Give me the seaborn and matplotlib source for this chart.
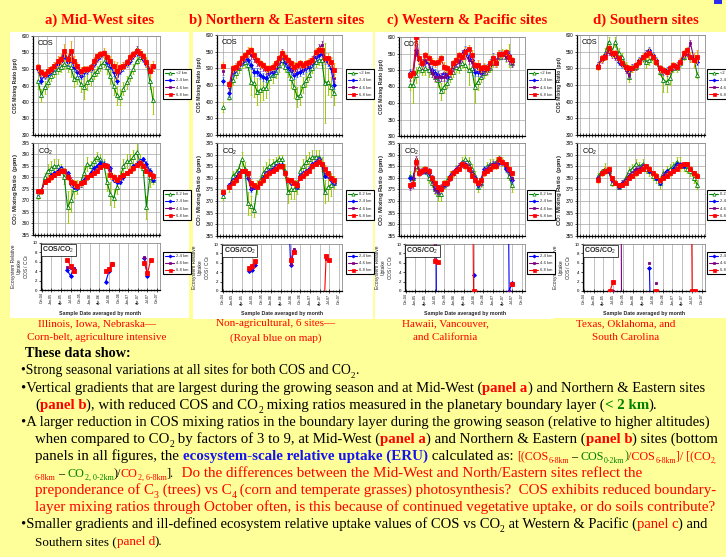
import numpy as np
import matplotlib
matplotlib.use("Agg")
import matplotlib.pyplot as plt
from matplotlib.lines import Line2D
from matplotlib.patches import Rectangle
from matplotlib.ticker import MultipleLocator, NullFormatter
import seaborn as sns

nan = np.nan

# ---------------------------------------------------------------- text data
panel_titles = ["a) Mid-West sites", "b) Northern & Eastern sites",
                "c) Western & Pacific sites", "d) Southern sites"]
panel_captions = [("Illinois, Iowa, Nebraska\u2014", "Corn-belt, agriculture intensive"),
                  ("Non-agricultural, 6 sites\u2014", "(Royal blue on map)"),
                  ("Hawaii, Vancouver,", "and California"),
                  ("Texas, Oklahoma, and", "South Carolina")]
cos_layers = ["<2 km", "2-4 km", "4-6 km", "6-8 km"]
co2_layers = ["0-2 km", "2-4 km", "4-6 km", "6-8 km"]
ratio_layers = ["2-4 km", "4-6 km", "6-8 km"]
month_ticks = [0, 3, 6, 9, 12, 15, 18, 21, 24, 27, 30, 33, 36]
month_labels = ["Oct-04", "Jan-05", "Apr-05", "Jul-05", "Oct-05", "Jan-06", "Apr-06",
                "Jul-06", "Oct-06", "Jan-07", "Apr-07", "Jul-07", "Oct-07"]

# ---------------------------------------------------------------- a) Mid-West
a_cos_0_2 = [465,420,445,460,480,490,500,505,515,510,505,470,475,455,445,460,470,485,
             495,510,520,505,480,450,420,415,440,460,480,500,525,535,540,520,465,405]
a_cos_2_4 = [500,465,480,485,495,505,515,525,540,520,530,505,490,480,490,495,500,515,
             530,540,545,520,510,490,465,495,505,515,525,540,550,545,530,515,495,505]
a_cos_4_6 = [505,485,483,495,500,510,520,530,550,530,545,520,505,490,500,500,505,520,
             535,545,548,530,520,505,485,500,510,520,535,545,560,550,535,520,500,505]
a_cos_6_8 = [505,490,485,495,500,510,525,530,555,530,555,525,510,495,500,500,505,525,
             540,545,550,535,525,510,495,505,510,520,535,545,555,550,540,520,495,510]
a_cos_err_0_2 = [25,20,20,15,15,15,15,15,15,20,30,25,20,25,35,25,20,15,
                 15,15,15,20,25,30,30,25,20,20,15,15,10,10,10,15,25,40]
a_cos_err_6_8 = [10,10,10,10,10,10,15,15,20,15,30,15,10,10,10,10,10,10,
                 10,10,15,10,15,15,25,10,10,10,10,10,10,10,10,15,20,15]
a_co2_0_2 = [372,374,380,383,384,385,385,384,380,367,370,375,376,378,382,386,385,387,
             389,388,386,378,373,371,376,380,385,387,387,389,391,387,384,367,380,379]
a_co2_2_4 = [373.5,374,378,379,381,382,383,384,383,382,377,376,375.5,377,379,380,382,384,
             385,386.5,386,385,384,379,378,378,380,382,383,385,386,387,388,386,383,379]
a_co2_4_6 = [374,374,378,379,380,381,382,383,383,381,379,377,376,377,378,380,381,382,
             383,384.5,385.5,385.5,383,380,379,380,381,382,383,384,385.5,386.5,385.5,384,382,381]
a_co2_6_8 = [374,374,378,379,380,381,382,383,383,380,378,377.5,376.5,377.5,378,380,381,382,
             383,384.5,385.5,385,381,380,379,380,381,382,383,384,385.5,386.5,385,383,381.5,380.5]
a_co2_err_0_2 = [1.5,1,2,3,3,3,3,2,3,7,5,4,3,2,3,3,2,2,
                 2,2,2,4,5,4,3,3,3,3,3,3,4,3,3,5,4,2]
a_co2_err_6_8 = [1,1,1,1,1,1,1,1,1,1,1.5,1.5,1,1,1,1,1,1,
                 1,1,1,1,1.5,1.5,1,1,1,1,1,1,1,1,1,1,1,1]
a_ratio_months = [8, 9, 10, 20, 21, 22, 32, 33, 34]
a_ratio_2_4 = [4.2, 3.0, 4.5, 1.8, 4.0, 5.6, 6.8, 3.0, nan]
a_ratio_4_6 = [4.8, 4.6, 4.6, nan, nan, 5.8, 7.0, 3.3, nan]
a_ratio_6_8 = [6.3, 5.2, 4.0, 4.0, 4.5, 5.5, 5.8, 3.6, 6.4]

# ---------------------------------------------------------------- b) Northern & Eastern
b_cos_0_2 = [385,nan, 415,465,485,500,515, 520,510,460,455,430, 435,440,440,470,480,
             490,510,525,505,495, 470,445,415,420,450, 465,480,500,520,525, 525,455,460,445,425]
b_cos_2_4 = [462,nan, 425,490,500,510,520, 530,525,510,490,490, 480,475,470,485,490,
             500,520,540,520,505, 495,480,485,490,495, 500,505,515,535,540, 545,525,520,500,450]
b_cos_4_6 = [492,nan, 443,495,505,510,525, 535,545,540,530,520, 510,505,495,495,500,
             510,525,545,530,520, 505,495,505,510,505, 510,515,525,545,560, 570,535,525,520,470]
b_cos_6_8 = [508,nan, 453,500,505,515,530, 540,550,555,540,525, 515,510,500,500,505,
             515,530,545,535,525, 515,505,510,515,510, 515,520,525,550,555, 555,530,530,520,495]
b_cos_err_0_2 = [15,nan, 10,15,15,15,15, 15,15,40,40,40, 35,35,30,30,25,
                 20,20,15,15,20, 30,35,30,30,25, 20,15,15,15,15, 15,120,40,30,35]
b_cos_err_6_8 = [10,nan, 10,10,10,10,10, 10,15,10,10,10, 10,10,10,10,10,
                 10,10,10,10,10, 10,15,10,10,10, 10,10,10,10,10, 10,15,15,15,20]
b_co2_0_2 = [372,nan, 376,381,382,384,388, 384,369,368,366,376, 379,382,384,385,386,
             387,388,388,383,374, 375,375,376,383,385, 387,388,389,389,389, 386,374,376,377,378]
b_co2_2_4 = [373.5,nan, 377,379,380,382,383, 383,380,375,376,376, 378,380,382,383,384,
             385,385.5,385.5,382,379, 378,378,376,381,382, 383,384,386,387,388, 386,381,381,379,378]
b_co2_4_6 = [374,nan, 376.5,378.5,379.5,381.5,383, 383,381,376,376.5,376, 378,379.5,381.5,382.5,383.5,
             384.5,385,385,382,379, 378.5,378,376.5,380.5,381.5, 382.5,383.5,385.5,386.5,387.5,
             386,382.5,381.5,379.5,378.5]
b_co2_6_8 = [374,nan, 376,378,379,381,383, 383,382,378,377,376, 378,379,381,382,383,
             384,385,385,382,379, 379,378,377,380,381, 382,383,385,386,387, 386,384,382,380,379]
b_co2_err_0_2 = [1.5,nan, 2,2,2,2,3, 3,5,4,3,3, 2,3,3,3,2,
                 2,2,2,3,5, 4,4,3,2,3, 3,3,3,3,3, 3,5,6,5,3]
b_co2_err_6_8 = [1,nan, 1,1,1,1,1, 1,1,1.5,1,1, 1,1,1,1,1,
                 1,1,1,1,1.5, 1,1,1,1,1, 1,1,1,1,1, 1,1.5,1,1,1]
b_ratio_months = [8, 9, 10, 20, 21, 22, 31, 32, 33]
b_ratio_2_4 = [4.3, 4.5, 5.5, 25.0, 5.6, 8.5, nan, nan, nan]
b_ratio_4_6 = [4.5, 4.9, 6.0, nan, 5.8, 9.0, nan, 6.8, 6.5]
b_ratio_6_8 = [5.0, 5.3, 6.3, nan, 6.5, 8.4, -10.0, 7.5, 6.5]

# ---------------------------------------------------------------- c) Western & Pacific
c_cos_0_2 = [455,455,485,505,500, 505,500,495,480,470, 435,450,460,480,495,
             510,505,520,515,500, 505,450,465,480,490, 500,505,520,525,540, 550,540,545,520]
c_cos_2_4 = [490,495,560,530,520, 525,520,500,490,485, 480,490,480,495,515,
             525,530,550,560,540, 530,495,495,490,505, 505,520,540,525,550, 545,550,545,525]
c_cos_4_6 = [480,490,555,530,515, 530,520,490,480,480, 480,480,485,490,510,
             520,525,540,545,530, 525,510,505,495,500, 500,515,530,520,545, 545,540,530,520]
c_cos_6_8 = [485,490,600,535,520, 545,535,525,520,525, 535,510,505,495,520,
             530,545,540,555,565, 545,515,515,505,510, 505,520,535,520,550, 550,555,540,530]
c_cos_err_0_2 = [15,55,25,15,15, 20,20,15,15,20, 25,20,15,15,15,
                 15,15,15,15,45, 20,50,25,15,15, 15,10,10,10,10, 15,15,35,10]
c_cos_err_6_8 = [10,10,10,15,10, 10,10,10,10,10, 10,15,10,10,10,
                 10,10,10,15,10, 15,10,15,10,10, 10,10,15,10,10, 10,10,10,10]
c_co2_0_2 = [381,380,385,383,383, 383,380,378,375,373, 373,377,379,381,382,
             384,385,387,388,387, 384,381,376,378,383, 385,386,386,387,388, 387,385,381,377]
c_co2_2_4 = [380,380,387,382,383, 383,382,380,375,375, 375,377,378,381,382,
             384,385,386,386,384, 382,380,377,379,384, 384,385,386,386,387, 387,384,383,379]
c_co2_4_6 = [376,377,388,383,383, 384,383,380,375,374, 376,377,378,380,382,
             384,385,386,386,385, 382,379,378,378,383, 384,385,386,386,388, 387,385,383,380]
c_co2_6_8 = [377,377.5,387,382,383, 384,383,380,378,376, 375,378,378,380,382,
             383,384,386,385,384, 381,379,378,379,382, 383,384,385,385,388, 387,386,384,382]
c_co2_err_0_2 = [2,2,2,1.5,1.5, 1.5,2,2,2,3, 3,2,2,2,1.5,
                 1.5,1.5,2,2,2, 2,2,2,2,2, 2,2,2,2,2, 2,2,2,3]
c_co2_err_6_8 = [1,1,1.5,1,1, 1,1,1,1,1, 1,1,1,1,1,
                 1,1,1,1,1, 1,1,1,1,1, 1,1,1,1,1, 1,1,1,1]
c_ratio_months = [8, 9, 10, 20, 21, 31, 32, 33]
c_ratio_2_4 = [nan, 60.0, -60.0, nan, 3.5, 80.0, 0.0, 1.8]
c_ratio_4_6 = [nan, nan, 6.2, nan, 0.0, nan, 0.0, nan]
c_ratio_6_8 = [30.0, 6.4, 6.2, 80.0, 0.0, nan, nan, 1.5]

# ---------------------------------------------------------------- d) Southern
d_cos_0_2 = [510,530,545,580,550, 580,545,535,510,475, 500,505,520,530,520,
             525,530,520,490,465, 460,470,500,500,515, 535,545,535,530,480]
d_cos_2_4 = [510,530,540,555,545, 540,520,510,500,495, 505,510,525,535,545,
             555,540,525,500,495, 495,500,505,505,515, 540,550,530,530,520]
d_cos_4_6 = [510,525,535,550,540, 535,530,515,495,480, 505,505,520,530,545,
             545,535,520,495,490, 485,495,505,510,520, 540,545,575,530,525]
d_cos_6_8 = [505,530,535,560,545, 545,530,515,505,500, 500,510,520,535,540,
             545,535,520,500,495, 490,500,510,505,520, 545,555,535,525,535]
d_cos_err_0_2 = [10,10,15,15,10, 15,15,10,10,15, 10,10,10,10,20,
                 15,15,10,10,35, 30,20,10,10,10, 10,10,15,10,10]
d_cos_err_6_8 = [10,10,10,10,10, 10,10,10,10,10, 10,10,10,10,10,
                 15,10,10,10,10, 10,10,10,10,10, 10,10,15,20,20]
d_co2_0_2 = [381,383,384,383,378, 378,376,378,380,383, 384,386,385,386,384,
             383,381,380,378,382, 383,384,385,387,386, 385,384,383,380,377]
d_co2_2_4 = [380,382,383,383,379, 378,376,378,379,381, 382,384,384,385,385,
             383,382,380,378,381, 383,382,384,386,385, 385,386,384,382,381]
d_co2_4_6 = [380,382,383,383,379, 378,376,378,379,381, 382,384,384,385,385,
             384,382,381,379,381, 382,382,383,385,386, 386,386,384,382,381]
d_co2_6_8 = [379,382,383,384,380, 378,377,377,378,380, 381,382,383,384,385,
             384,382,381,379,380, 381,382,383,384,385, 386,386,384,382,381]
d_co2_err_0_2 = [1,1,2.5,1,1.5, 1,1,1,1,1.5, 2,2,2,2,2,
                 2,2,2,3,2, 2,2,2,2,3, 2,2,2,2,2]
d_co2_err_6_8 = [1,1,1.5,1,1, 1,1,1,1,1, 1,1,1,1,1,
                 1,1,1,1,1, 1,1,1,1,1, 1,1,1,1,1]
d_ratio_months = [8, 9, 11, 12, 20, 21, 22, 32, 33, 34]
d_ratio_2_4 = [nan, nan, nan, nan, 5.0, -30.0, nan, nan, nan, nan]
d_ratio_4_6 = [nan, 0.0, 90.0, -90.0, 6.0, nan, 1.6, nan, nan, nan]
d_ratio_6_8 = [0.0, 2.0, nan, nan, nan, nan, 0.0, 90.0, 0.0, 0.0]

# typical error bars of the 2-4 km and 4-6 km layers, per region
mid_cos_err = [10, 12, 12, 9]
mid_co2_err = [1.0, 1.0, 1.3, 0.9]

# ---------------------------------------------------------------- styling
W, H, DPI = 726, 557, 100
BG = "#FFFF99"
SERIF = ["Liberation Serif", "DejaVu Serif"]
SANS = ["Liberation Sans", "DejaVu Sans"]
RED, GREEN, BLUE, BLACK = "#FF0000", "#008000", "#1414F0", "#000000"

STYLE = {
    "0-2": dict(color="#008000", ecolor="#99CC00", marker="^", mfc="white", ms=2.9),
    "2-4": dict(color="#0000FF", ecolor="#3366FF", marker="D", mfc="#0000FF", ms=2.0),
    "4-6": dict(color="#800080", ecolor="#993399", marker="s", mfc="#800080", ms=2.0),
    "6-8": dict(color="#FF0000", ecolor="#FF9900", marker="s", mfc="#FF0000", ms=2.7),
}
ZORD = {"0-2": 2, "2-4": 3, "4-6": 4, "6-8": 5}

sns.set_theme(style="white")
plt.rcParams["font.family"] = SANS
plt.rcParams["mathtext.fontset"] = "custom"
plt.rcParams["mathtext.rm"] = "Liberation Sans"
plt.rcParams["mathtext.bf"] = "Liberation Sans:bold"
plt.rcParams["mathtext.it"] = "Liberation Sans:italic"

fig = plt.figure(figsize=(W / DPI, H / DPI), dpi=DPI)
fig.patch.set_facecolor(BG)


def fbox(l, t, r, b):
    return [l / W, 1 - b / H, (r - l) / W, (b - t) / H]


def frect(l, t, r, b, color, z=-1):
    fig.patches.append(Rectangle((l / W, 1 - b / H), (r - l) / W, (b - t) / H,
                                 transform=fig.transFigure, facecolor=color,
                                 edgecolor="none", zorder=z))


# layout of the four regional columns (pixel boxes: left, top, right, bottom)
layout = [
    dict(card=(10, 32, 189, 318), cos=(33, 36, 160, 135), co2=(33, 143, 160, 235),
         ratio=(41, 243, 160, 290), xlim=(-1.52, 37.13), leg_x=163, title_x=100, cap_x=97),
    dict(card=(193, 32, 373, 319), cos=(217, 35, 342, 135), co2=(217, 143, 342, 236),
         ratio=(222, 244, 342, 291), xlim=(-2.05, 38.6), leg_x=346, title_x=277, cap_x=276),
    dict(card=(375, 32, 553, 319), cos=(399, 37, 525, 136), co2=(399, 143, 525, 236),
         ratio=(405, 244, 525, 291), xlim=(-3.57, 37.3), leg_x=527, title_x=467, cap_x=445),
    dict(card=(553, 32, 726, 318), cos=(577, 35, 705, 135), co2=(577, 143, 705, 236),
         ratio=(583, 244, 705, 291), xlim=(-6.24, 31.26), leg_x=707, title_x=646, cap_x=626),
]

regions = [
    dict(cos=[a_cos_0_2, a_cos_2_4, a_cos_4_6, a_cos_6_8], cos_err=(a_cos_err_0_2, a_cos_err_6_8),
         co2=[a_co2_0_2, a_co2_2_4, a_co2_4_6, a_co2_6_8], co2_err=(a_co2_err_0_2, a_co2_err_6_8),
         rm=a_ratio_months, ratio=[a_ratio_2_4, a_ratio_4_6, a_ratio_6_8]),
    dict(cos=[b_cos_0_2, b_cos_2_4, b_cos_4_6, b_cos_6_8], cos_err=(b_cos_err_0_2, b_cos_err_6_8),
         co2=[b_co2_0_2, b_co2_2_4, b_co2_4_6, b_co2_6_8], co2_err=(b_co2_err_0_2, b_co2_err_6_8),
         rm=b_ratio_months, ratio=[b_ratio_2_4, b_ratio_4_6, b_ratio_6_8]),
    dict(cos=[c_cos_0_2, c_cos_2_4, c_cos_4_6, c_cos_6_8], cos_err=(c_cos_err_0_2, c_cos_err_6_8),
         co2=[c_co2_0_2, c_co2_2_4, c_co2_4_6, c_co2_6_8], co2_err=(c_co2_err_0_2, c_co2_err_6_8),
         rm=c_ratio_months, ratio=[c_ratio_2_4, c_ratio_4_6, c_ratio_6_8]),
    dict(cos=[d_cos_0_2, d_cos_2_4, d_cos_4_6, d_cos_6_8], cos_err=(d_cos_err_0_2, d_cos_err_6_8),
         co2=[d_co2_0_2, d_co2_2_4, d_co2_4_6, d_co2_6_8], co2_err=(d_co2_err_0_2, d_co2_err_6_8),
         rm=d_ratio_months, ratio=[d_ratio_2_4, d_ratio_4_6, d_ratio_6_8]),
]


def split_runs(x, y):
    runs, cur = [], []
    for xi, yi in zip(x, y):
        if yi is None or np.isnan(yi):
            if cur:
                runs.append(cur)
            cur = []
            continue
        if cur and xi - cur[-1][0] > 1:
            runs.append(cur)
            cur = []
        cur.append((xi, yi))
    if cur:
        runs.append(cur)
    return runs


def draw_series(ax, x, y, err, key):
    st = STYLE[key]
    z = ZORD[key]
    if err is not None:
        ax.errorbar(x, y, yerr=err, fmt="none", ecolor=st["ecolor"], elinewidth=0.7,
                    capsize=0.9, capthick=0.5, zorder=z)
    for run in split_runs(x, y):
        xs, ys = zip(*run)
        sns.lineplot(x=list(xs), y=list(ys), ax=ax, color=st["color"], marker=st["marker"],
                     markersize=st["ms"], markerfacecolor=st["mfc"], markeredgecolor=st["color"],
                     markeredgewidth=0.6, linewidth=0.8, estimator=None, errorbar=None,
                     sort=False, legend=False, zorder=z + 0.5)


def frame(ax):
    for s in ("top", "right"):
        ax.spines[s].set_color("#8C8C8C")
        ax.spines[s].set_linewidth(0.6)
    for s in ("left", "bottom"):
        ax.spines[s].set_color("black")
        ax.spines[s].set_linewidth(0.9)
    ax.set_facecolor("white")
    ax.set_axisbelow(True)
    ax.set_xlabel("")
    ax.set_ylabel("")


def style_top(ax, xlim, ylim, ymaj, ymin, width_px):
    ax.set_xlim(*xlim)
    ax.set_ylim(*ylim)
    step = 9.1 / (width_px / (xlim[1] - xlim[0]))
    ax.xaxis.set_major_locator(MultipleLocator(step))
    ax.xaxis.set_minor_locator(MultipleLocator(step / 3))
    ax.xaxis.set_major_formatter(NullFormatter())
    ax.yaxis.set_major_locator(MultipleLocator(ymaj))
    ax.yaxis.set_minor_locator(MultipleLocator(ymin))
    ax.grid(True, which="major", color="#A6A6A6", linewidth=0.5)
    ax.tick_params(axis="x", which="both", direction="inout", length=2.2, width=0.5,
                   bottom=True, labelbottom=False, color="black")
    ax.tick_params(axis="y", which="major", direction="out", length=1.8, width=0.5,
                   left=True, labelsize=3.3, pad=0.8, colors="black")
    ax.tick_params(axis="y", which="minor", direction="out", length=1.0, width=0.4, left=True)
    frame(ax)


def style_ratio(ax):
    ax.set_xlim(-0.2, 36.9)
    ax.set_ylim(0, 10)
    ax.set_xticks(month_ticks, labels=month_labels)
    ax.xaxis.set_minor_locator(MultipleLocator(1))
    ax.yaxis.set_major_locator(MultipleLocator(2))
    ax.grid(True, axis="x", which="major", color="#A6A6A6", linewidth=0.5)
    ax.tick_params(axis="x", which="major", direction="inout", length=2.2, width=0.5,
                   bottom=True, labelsize=2.6, pad=0.8, rotation=90, colors="black")
    ax.tick_params(axis="x", which="minor", direction="inout", length=1.6, width=0.4, bottom=True)
    ax.tick_params(axis="y", which="major", direction="out", length=1.8, width=0.5,
                   left=True, labelsize=3.2, pad=0.8, colors="black")
    frame(ax)


def legend_at(keys, labels, x_px, y_px):
    handles = [Line2D([0], [0], color=STYLE[k]["color"], marker=STYLE[k]["marker"],
                      markersize=STYLE[k]["ms"] * 0.8, markerfacecolor=STYLE[k]["mfc"],
                      markeredgecolor=STYLE[k]["color"], markeredgewidth=0.5, linewidth=0.8)
               for k in keys]
    leg = fig.legend(handles, labels, loc="center left", bbox_to_anchor=(x_px / W, 1 - y_px / H),
                     fontsize=2.9, frameon=True, fancybox=False, edgecolor="black",
                     facecolor="white", framealpha=1, handlelength=2.2, handletextpad=0.5,
                     borderpad=0.55, labelspacing=0.75, borderaxespad=0)
    leg.get_frame().set_linewidth(0.8)


KEYS4 = ["0-2", "2-4", "4-6", "6-8"]
KEYS3 = ["2-4", "4-6", "6-8"]

for i, (lay, reg) in enumerate(zip(layout, regions)):
    frect(*lay["card"], "white", z=-2 if i == 3 else -1)

    # --- COS mixing ratio
    l, t, r, b = lay["cos"]
    ax = fig.add_axes(fbox(*lay["cos"]))
    n = len(reg["cos"][0])
    xs = np.arange(n)
    for k, vals in zip(KEYS4, reg["cos"]):
        if k == "0-2":
            err = reg["cos_err"][0]
        elif k == "6-8":
            err = reg["cos_err"][1]
        else:
            err = mid_cos_err[i]
        draw_series(ax, xs, np.asarray(vals, float), err, k)
    style_top(ax, lay["xlim"], (300, 600), 50, 10, r - l)
    ax.text(5 / (r - l), 1 - 7.5 / (b - t), "COS", transform=ax.transAxes, fontsize=5.2,
            ha="left", va="center", color="black")
    fig.text((l - 18) / W, 1 - ((t + b) / 2) / H, "COS Mixing Ratio (ppt)", rotation=90,
             fontsize=3.6, fontweight="bold", ha="center", va="center")
    legend_at(KEYS4, cos_layers, lay["leg_x"], 84)

    # --- CO2 mixing ratio
    l, t, r, b = lay["co2"]
    ax = fig.add_axes(fbox(*lay["co2"]))
    for k, vals in zip(KEYS4, reg["co2"]):
        if k == "0-2":
            err = reg["co2_err"][0]
        elif k == "6-8":
            err = reg["co2_err"][1]
        else:
            err = mid_co2_err[i]
        draw_series(ax, xs, np.asarray(vals, float), err, k)
    style_top(ax, lay["xlim"], (355, 395), 5, 1, r - l)
    ax.text(5 / (r - l), 1 - 8.5 / (b - t), "CO$_2$", transform=ax.transAxes, fontsize=5.2,
            ha="left", va="center", color="black")
    fig.text((l - 18) / W, 1 - ((t + b) / 2) / H, "CO$_2$ Mixing Ratio  (ppm)", rotation=90,
             fontsize=4.4, fontweight="bold", ha="center", va="center")
    legend_at(KEYS4, co2_layers, lay["leg_x"], 205)

    # --- ecosystem relative uptake COS/CO2
    l, t, r, b = lay["ratio"]
    ax = fig.add_axes(fbox(*lay["ratio"]))
    for k, vals in zip(KEYS3, reg["ratio"]):
        draw_series(ax, np.asarray(reg["rm"], float), np.asarray(vals, float), None, k)
    style_ratio(ax)
    ax.text(1.5 / (r - l), 1 - 2 / (b - t), "COS/CO$_2$", transform=ax.transAxes, fontsize=5.0,
            fontweight="bold", ha="left", va="top", zorder=10,
            bbox=dict(boxstyle="square,pad=0.15", facecolor="white", edgecolor="black", linewidth=0.5))
    fig.text((l - 20) / W, 1 - ((t + b) / 2) / H, "Ecosystem Relative\nUptake\nCOS / CO$_2$",
             rotation=90, fontsize=3.5, ha="center", va="center", linespacing=1.1)
    fig.text(((l + r) / 2) / W, 1 - 313 / H, "Sample Date averaged by month", fontsize=3.8,
             fontweight="bold", ha="center", va="center")
    legend_at(KEYS3, ratio_layers, lay["leg_x"], 263)

    # --- panel heading and caption
    fig.text(lay["title_x"] / W, 1 - 20 / H, panel_titles[i], fontsize=10.6, fontweight="bold",
             color=RED, family=SERIF, ha="center", va="center")
    fig.text(lay["cap_x"] / W, 1 - 324 / H, panel_captions[i][0], fontsize=8, color=RED,
             family=SERIF, ha="center", va="center")
    fig.text(lay["cap_x"] / W, 1 - 338 / H, panel_captions[i][1], fontsize=8, color=RED,
             family=SERIF, ha="center", va="center")

# small blue mark in the top-right corner
frect(714, 0, 722, 4, "#2B2BF0", z=1)

# ---------------------------------------------------------------- findings text
renderer = fig.canvas.get_renderer()


def _w(txt, size, bold):
    t = fig.text(0, 0, txt, fontsize=size, fontweight="bold" if bold else "normal", family=SERIF)
    w = t.get_window_extent(renderer).width
    t.remove()
    return w


def seg_width(s, size, bold):
    return _w("|" + s + "|", size, bold) - _w("||", size, bold)


KIND = {"n": (1.0, 0.0), "sub": (0.66, 0.26), "sm": (0.8, 0.0), "smsub": (0.53, 0.21)}


def rich_line(x0, yc, segs, size, right=None):
    if right is not None:
        total = sum(seg_width(s, size * KIND[k][0], b) for s, c, b, k in segs)
        size = size * (right - x0) / total
    base = yc + 0.32 * size * DPI / 72
    x = x0
    for s, c, b, k in segs:
        f, drop = KIND[k]
        fs = size * f
        y = base + drop * size * DPI / 72
        fig.text(x / W, 1 - y / H, s, fontsize=fs, fontweight="bold" if b else "normal",
                 color=c, family=SERIF, ha="left", va="baseline")
        x += seg_width(s, fs, b)


K, R, G, B = BLACK, RED, GREEN, BLUE
body = [
    (25, 352, [("These data show:", K, True, "n")], 131),
    (21, 370, [("\u2022Strong seasonal variations at all sites for both COS and CO", K, False, "n"),
               ("2", K, False, "sub"), (".", K, False, "n")], 360),
    (21, 387, [("\u2022Vertical gradients that are largest during the growing season and at Mid-West (", K, False, "n"),
               ("panel a", R, True, "n"), (") and Northern & Eastern sites", K, False, "n")], 718),
    (35, 404, [("(", K, False, "n"), ("panel b", R, True, "n"),
               ("), with reduced COS and CO", K, False, "n"), ("2", K, False, "sub"),
               (" mixing ratios measured in the planetary boundary layer (", K, False, "n"),
               ("< 2 km", G, True, "n"), (").", K, False, "n")], 660),
    (21, 421, [("\u2022A larger reduction in COS mixing ratios in the boundary layer during the growing "
                "season (relative to higher altitudes)", K, False, "n")], 719),
    (35, 438, [("when compared to CO", K, False, "n"), ("2", K, False, "sub"),
               (" by factors of 3 to 9, at Mid-West (", K, False, "n"), ("panel a", R, True, "n"),
               (") and Northern & Eastern (", K, False, "n"), ("panel b", R, True, "n"),
               (") sites (bottom", K, False, "n")], 719),
    (35, 455, [("panels in all figures, the ", K, False, "n"),
               ("ecosystem-scale relative uptake (ERU)", B, True, "n"),
               (" calculated as: ", K, False, "n"), ("[(COS", R, False, "sm"), ("6-8km", R, False, "smsub"),
               (" \u2013 ", K, False, "sm"), ("COS", G, False, "sm"), ("0-2km", G, False, "smsub"),
               (")", G, False, "sm"), ("/COS", R, False, "sm"), ("6-8km", R, False, "smsub"),
               ("]/ [(CO", R, False, "sm"), ("2,", R, False, "smsub")], 720),
    (35, 472, [("6-8km", R, False, "smsub"), (" \u2013 ", K, False, "sm"), ("CO", G, False, "sm"),
               ("2, 0-2km", G, False, "smsub"), (")/", K, False, "sm"), ("CO", R, False, "sm"),
               ("2, 6-8km", R, False, "smsub"), ("].", K, False, "sm"),
               ("  Do the differences between the Mid-West and North/Eastern sites reflect the", R, False, "n")], 646),
    (35, 489, [("preponderance of C", R, False, "n"), ("3", R, False, "sub"), (" (trees) vs C", R, False, "n"),
               ("4", R, False, "sub"),
               (" (corn and temperate grasses) photosynthesis?  COS exhibits reduced boundary-", R, False, "n")], 718),
    (35, 506, [("layer mixing ratios through October often, is this because of continued vegetative "
                "uptake, or do soils contribute?", R, False, "n")], 718),
    (21, 523, [("\u2022Smaller gradients and ill-defined ecosystem relative uptake values of COS vs CO", K, False, "n"),
               ("2", K, False, "sub"), (" at Western & Pacific (", K, False, "n"), ("panel c", R, False, "n"),
               (") and", K, False, "n")], 718),
    (35, 541, [("Southern sites (", K, False, "n"), ("panel d", R, False, "n"), (").", K, False, "n")], 163),
]
for x0, yc, segs, right in body:
    rich_line(x0, yc, segs, 9.8, right)

fig.savefig("out.png", dpi=DPI, facecolor=fig.get_facecolor())
